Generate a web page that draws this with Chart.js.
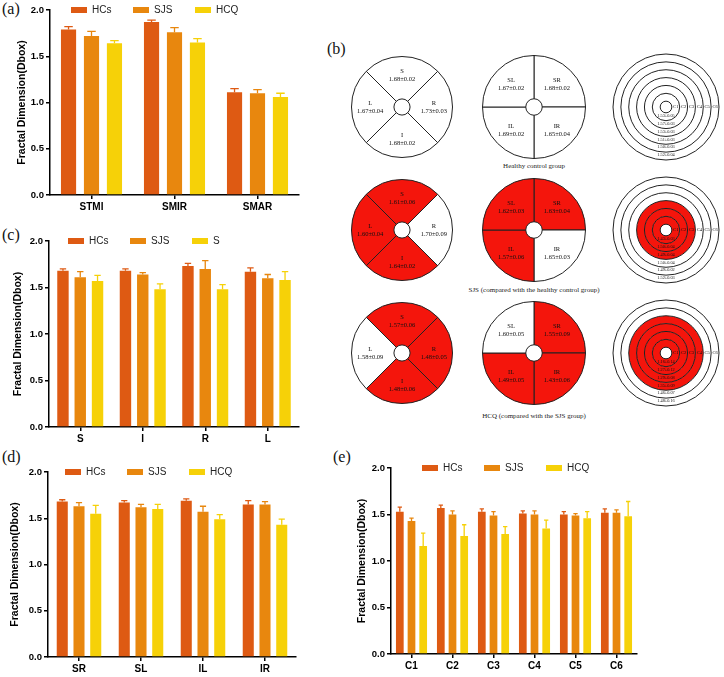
<!DOCTYPE html>
<html lang="en">
<head>
<meta charset="UTF-8">
<title>Fractal dimension (Dbox)</title>
<script src="https://cdn.jsdelivr.net/npm/chart.js"></script>
<style>
  body { margin: 0; background: #fff; }
  #page { position: relative; width: 724px; height: 677px; overflow: hidden; }
  .box { position: absolute; }
  .tag { position: absolute; font-family: "Liberation Serif", serif; font-size: 16px; line-height: 16px; color: #111; }
  .cap { position: absolute; font-family: "Liberation Serif", serif; font-size: 7px; line-height: 8px; color: #222; transform: translateX(-50%); white-space: nowrap; }
  canvas.dia { position: absolute; }
</style>
</head>
<body>
<div id="page">
  <div class="tag" style="left:2px;top:1px">(a)</div>
  <div class="tag" style="left:327px;top:41px">(b)</div>
  <div class="tag" style="left:2px;top:227px">(c)</div>
  <div class="tag" style="left:2px;top:449px">(d)</div>
  <div class="tag" style="left:333px;top:449px">(e)</div>

  <div class="box" style="left:0;top:0;width:310px;height:215px"><canvas id="chartA"></canvas></div>
  <div class="box" style="left:0;top:230px;width:310px;height:217px"><canvas id="chartC"></canvas></div>
  <div class="box" style="left:0;top:462px;width:310px;height:215px"><canvas id="chartD"></canvas></div>
  <div class="box" style="left:330px;top:458px;width:320px;height:216px"><canvas id="chartE"></canvas></div>

  <div class="cap" style="left:534px;top:162px">Healthy control group</div>
  <div class="cap" style="left:534px;top:286px">SJS (compared with the healthy control group)</div>
  <div class="cap" style="left:534px;top:412px">HCQ (compared with the SJS group)</div>
</div>
<script>
const FONT = '"Liberation Sans", Arial, sans-serif';
const SERIF = '"Liberation Serif", serif';
const RED = '#f4150c';

const groups = ['HCs', 'SJS', 'HCQ'];
const colors = ['#de5a13', '#e8870e', '#f6d108'];

// (a) macular regions
const catsA = ['STMI', 'SMIR', 'SMAR'];
const hcsA = [1.79, 1.87, 1.11];
const sjsA = [1.72, 1.76, 1.10];
const hcqA = [1.64, 1.65, 1.06];
const hcsAErr = [0.03, 0.02, 0.04];
const sjsAErr = [0.05, 0.05, 0.04];
const hcqAErr = [0.03, 0.04, 0.04];

// (c) quadrants
const catsC = ['S', 'I', 'R', 'L'];
const legendC = ['HCs', 'SJS', 'S'];
const hcsC = [1.68, 1.68, 1.73, 1.67];
const sjsC = [1.61, 1.64, 1.70, 1.60];
const hcqC = [1.57, 1.48, 1.48, 1.58];
const hcsCErr = [0.02, 0.02, 0.03, 0.04];
const sjsCErr = [0.06, 0.02, 0.09, 0.04];
const hcqCErr = [0.06, 0.06, 0.05, 0.09];

// (d) hemi quadrants
const catsD = ['SR', 'SL', 'IL', 'IR'];
const hcsD = [1.68, 1.67, 1.69, 1.65];
const sjsD = [1.63, 1.62, 1.57, 1.65];
const hcqD = [1.55, 1.60, 1.49, 1.43];
const hcsDErr = [0.02, 0.02, 0.02, 0.04];
const sjsDErr = [0.04, 0.03, 0.06, 0.03];
const hcqDErr = [0.09, 0.05, 0.05, 0.06];

// (e) rings
const catsE = ['C1', 'C2', 'C3', 'C4', 'C5', 'C6'];
const hcsE = [1.53, 1.57, 1.53, 1.51, 1.50, 1.52];
const sjsE = [1.43, 1.50, 1.49, 1.50, 1.49, 1.52];
const hcqE = [1.16, 1.27, 1.29, 1.35, 1.46, 1.48];
const hcsEErr = [0.05, 0.03, 0.03, 0.03, 0.03, 0.04];
const sjsEErr = [0.03, 0.04, 0.04, 0.04, 0.02, 0.03];
const hcqEErr = [0.14, 0.12, 0.08, 0.09, 0.07, 0.16];

// significant regions (red) in (b)
const sigC_SJS = [1, 1, 0, 1];
const sigC_HCQ = [1, 1, 1, 0];
const sigD_SJS = [1, 1, 1, 0];
const sigD_HCQ = [1, 0, 1, 1];
const sigE_SJS = [1, 1, 1, 0, 0, 0];
const sigE_HCQ = [1, 1, 1, 1, 0, 0];

const fmt = (v, e) => v.toFixed(2) + '\u00b1' + e.toFixed(2);

// upward error bars with a cap
const errorBars = {
  id: 'errorBars',
  afterDatasetsDraw(chart) {
    const { ctx } = chart;
    const y = chart.scales.y;
    chart.data.datasets.forEach((ds, i) => {
      chart.getDatasetMeta(i).data.forEach((bar, j) => {
        const top = y.getPixelForValue(ds.data[j] + ds.err[j]);
        const half = bar.width * 0.28;
        ctx.save();
        ctx.strokeStyle = ds.backgroundColor;
        ctx.lineWidth = 1.3;
        ctx.beginPath();
        ctx.moveTo(bar.x, bar.y);
        ctx.lineTo(bar.x, top);
        ctx.moveTo(bar.x - half, top);
        ctx.lineTo(bar.x + half, top);
        ctx.stroke();
        ctx.restore();
      });
    });
  }
};

// legend drawn inside the plot, level with the top tick
const groupLegend = {
  id: 'groupLegend',
  afterDraw(chart, args, opts) {
    const { ctx, chartArea } = chart;
    const y = chartArea.top;
    ctx.save();
    ctx.font = '10px ' + FONT;
    ctx.textBaseline = 'middle';
    chart.data.datasets.forEach((ds, i) => {
      const x = chartArea.left + opts.x + i * 62;
      ctx.fillStyle = ds.backgroundColor;
      ctx.fillRect(x, y - 3, 16, 6);
      ctx.fillStyle = '#222';
      ctx.fillText(ds.label, x + 21, y + 0.5);
    });
    ctx.restore();
  }
};

function barChart(id, cats, vals, errs, names, lay) {
  new Chart(document.getElementById(id), {
    type: 'bar',
    data: {
      labels: cats,
      datasets: vals.map((v, i) => ({
        label: names[i], data: v, err: errs[i],
        backgroundColor: colors[i], borderWidth: 0
      }))
    },
    options: {
      responsive: true,
      maintainAspectRatio: false,
      animation: false,
      events: [],
      layout: { padding: lay.pad },
      datasets: { bar: { categoryPercentage: lay.cat, barPercentage: 0.66 } },
      plugins: {
        legend: { display: false },
        tooltip: { enabled: false },
        groupLegend: { x: lay.legX }
      },
      scales: {
        x: {
          grid: { offset: false, drawOnChartArea: false, color: '#000', tickLength: 4, lineWidth: 1.5 },
          border: { color: '#000', width: 1.5 },
          ticks: { color: '#000', padding: 2, font: { family: FONT, size: 10, weight: 'bold' } },
          afterFit: s => { s.height = 20; }
        },
        y: {
          min: 0, max: 2,
          grid: { drawOnChartArea: false, color: '#000', tickLength: 4, lineWidth: 1.5 },
          border: { color: '#000', width: 1.5 },
          ticks: { stepSize: 0.5, color: '#000', padding: 2, callback: v => v.toFixed(1),
                   font: { family: FONT, size: 9.5, weight: 'bold' } },
          title: { display: true, text: 'Fractal Dimension(Dbox)', color: '#000', padding: 0,
                   font: { family: FONT, size: 10.5, weight: 'bold' } },
          afterFit: s => { s.width = lay.yw; }
        }
      }
    },
    plugins: [errorBars, groupLegend]
  });
}

barChart('chartA', catsA, [hcsA, sjsA, hcqA], [hcsAErr, sjsAErr, hcqAErr], groups,
  { pad: { left: 16, top: 10, right: 11, bottom: 0 }, yw: 34, cat: 0.83, legX: 21 });
barChart('chartC', catsC, [hcsC, sjsC, hcqC], [hcsCErr, sjsCErr, hcqCErr], legendC,
  { pad: { left: 12, top: 11, right: 11, bottom: 0 }, yw: 37, cat: 0.83, legX: 19 });
barChart('chartD', catsD, [hcsD, sjsD, hcqD], [hcsDErr, sjsDErr, hcqDErr], groups,
  { pad: { left: 9, top: 10, right: 14, bottom: 0 }, yw: 39, cat: 0.81, legX: 17 });
barChart('chartE', catsE, [hcsE, sjsE, hcqE], [hcsEErr, sjsEErr, hcqEErr], groups,
  { pad: { left: 26, top: 10, right: 13, bottom: 0 }, yw: 35, cat: 0.855, legX: 31 });

// ---- (b) region diagrams ----
function makeCanvas(cx, cy, size) {
  const c = document.createElement('canvas');
  c.className = 'dia';
  c.width = size; c.height = size;
  c.style.left = (cx - size / 2) + 'px';
  c.style.top = (cy - size / 2) + 'px';
  document.getElementById('page').appendChild(c);
  return c;
}

const sectorText = {
  id: 'sectorText',
  afterDraw(chart, args, opts) {
    const { ctx } = chart;
    ctx.save();
    ctx.fillStyle = '#111';
    ctx.textAlign = 'center';
    ctx.textBaseline = 'middle';
    ctx.font = '6.5px ' + SERIF;
    chart.getDatasetMeta(0).data.forEach((arc, k) => {
      const a = (arc.startAngle + arc.endAngle) / 2;
      const r = arc.outerRadius * 0.63;
      const px = arc.x + Math.cos(a) * r;
      const py = arc.y + Math.sin(a) * r;
      ctx.fillText(opts.names[k], px, py - 4);
      ctx.fillText(opts.texts[k], px, py + 4);
    });
    ctx.restore();
  }
};

function sectorChart(cx, cy, size, names, vals, errs, sig, order, rotation) {
  new Chart(makeCanvas(cx, cy, size), {
    type: 'doughnut',
    data: {
      labels: order.map(i => names[i]),
      datasets: [{
        data: order.map(() => 1),
        backgroundColor: order.map(i => sig && sig[i] ? RED : '#fff'),
        borderColor: '#222',
        borderWidth: 1
      }]
    },
    options: {
      responsive: false,
      animation: false,
      events: [],
      rotation: rotation,
      cutout: '16%',
      layout: { padding: 1 },
      plugins: {
        legend: { display: false },
        tooltip: { enabled: false },
        sectorText: { names: order.map(i => names[i]), texts: order.map(i => fmt(vals[i], errs[i])) }
      }
    },
    plugins: [sectorText]
  });
}

const ringText = {
  id: 'ringText',
  afterDraw(chart, args, opts) {
    const { ctx } = chart;
    const n = chart.data.datasets.length;
    ctx.save();
    ctx.strokeStyle = '#222';
    ctx.lineWidth = 1;
    ctx.fillStyle = '#111';
    ctx.textAlign = 'center';
    ctx.textBaseline = 'middle';
    chart.data.datasets.forEach((ds, d) => {
      const arc = chart.getDatasetMeta(d).data[0];
      const c = n - 1 - d;
      ctx.beginPath();
      ctx.arc(arc.x, arc.y, arc.outerRadius, 0, Math.PI * 2);
      ctx.stroke();
      if (c === 0) {
        ctx.beginPath();
        ctx.arc(arc.x, arc.y, arc.innerRadius, 0, Math.PI * 2);
        ctx.stroke();
      }
      ctx.font = '4.6px ' + SERIF;
      ctx.fillText(opts.names[c], arc.x + (arc.innerRadius + arc.outerRadius) / 2, arc.y);
      ctx.font = '4.3px ' + SERIF;
      ctx.fillText(opts.texts[c], arc.x, arc.y + arc.innerRadius + 3);
    });
    ctx.restore();
  }
};

function ringChart(cx, cy, size, vals, errs, sig) {
  const idx = catsE.map((_, i) => catsE.length - 1 - i); // outer ring first
  new Chart(makeCanvas(cx, cy, size), {
    type: 'doughnut',
    data: {
      labels: ['ring'],
      datasets: idx.map(i => ({
        label: catsE[i],
        data: [1],
        backgroundColor: sig && sig[i] ? RED : '#fff',
        borderWidth: 0
      }))
    },
    options: {
      responsive: false,
      animation: false,
      events: [],
      cutout: '11%',
      layout: { padding: 1 },
      plugins: {
        legend: { display: false },
        tooltip: { enabled: false },
        ringText: { names: catsE, texts: vals.map((v, i) => fmt(v, errs[i])) }
      }
    },
    plugins: [ringText]
  });
}

const quadOrder = [0, 2, 1, 3];   // S, R, I, L clockwise from top
const hemiOrder = [0, 3, 2, 1];   // SR, IR, IL, SL clockwise from top
const rowsY = [107, 230, 353];

sectorChart(402, rowsY[0], 104, catsC, hcsC, hcsCErr, null, quadOrder, -45);
sectorChart(402, rowsY[1], 104, catsC, sjsC, sjsCErr, sigC_SJS, quadOrder, -45);
sectorChart(402, rowsY[2], 104, catsC, hcqC, hcqCErr, sigC_HCQ, quadOrder, -45);

sectorChart(534, rowsY[0], 106, catsD, hcsD, hcsDErr, null, hemiOrder, 0);
sectorChart(534, rowsY[1], 106, catsD, sjsD, sjsDErr, sigD_SJS, hemiOrder, 0);
sectorChart(534, rowsY[2], 106, catsD, hcqD, hcqDErr, sigD_HCQ, hemiOrder, 0);

ringChart(666, rowsY[0], 108, hcsE, hcsEErr, null);
ringChart(666, rowsY[1], 108, sjsE, sjsEErr, sigE_SJS);
ringChart(666, rowsY[2], 108, hcqE, hcqEErr, sigE_HCQ);
</script>
</body>
</html>
